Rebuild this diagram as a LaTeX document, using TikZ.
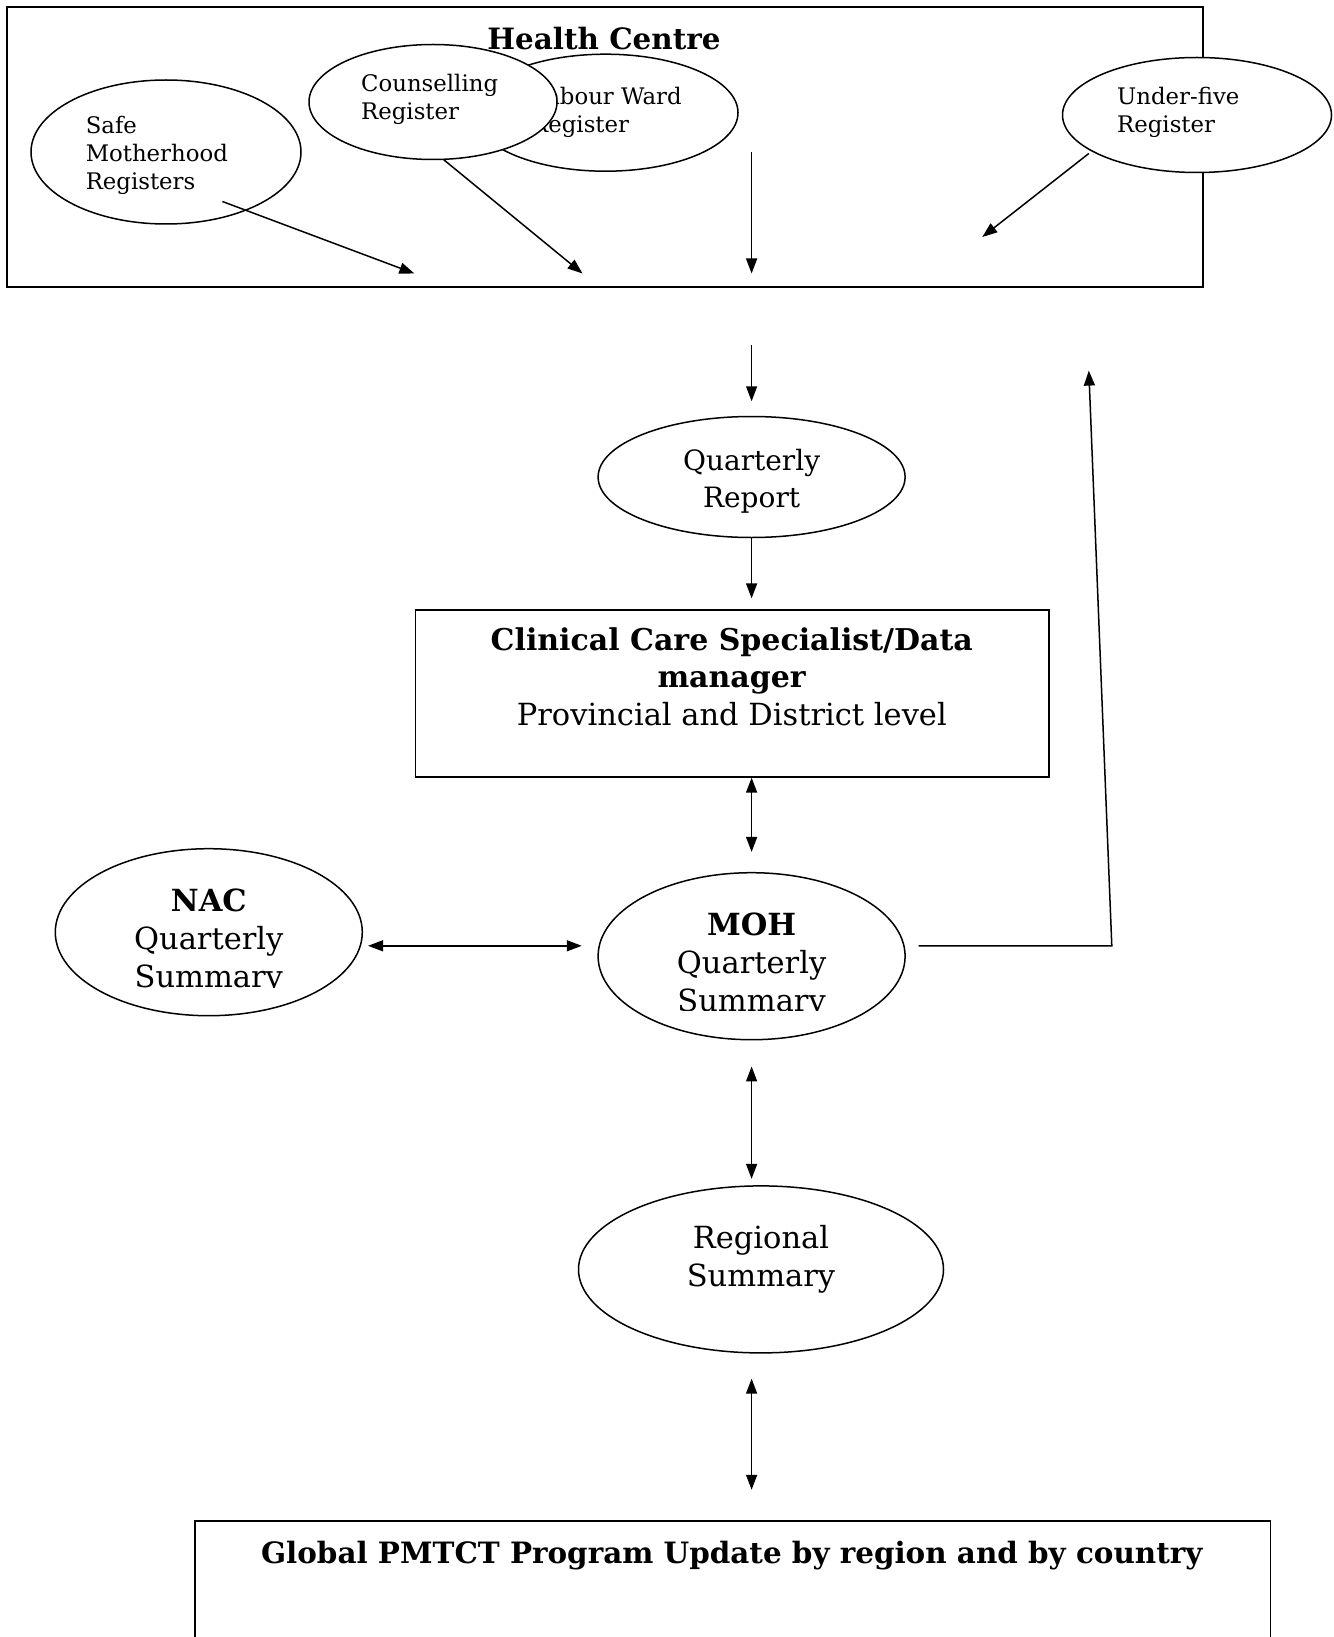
\documentclass[tikz,border=0pt]{standalone}
\usepackage{fontspec}
\setmainfont{DejaVu Serif}
\usetikzlibrary{arrows.meta,shapes.geometric}
\begin{document}
\begin{tikzpicture}[x=1pt,y=-1pt,
  box/.style={draw,line width=1.8pt,inner sep=0,fill=white},
  ell/.style={draw,ellipse,line width=1.5pt,fill=white,inner sep=0},
  conn/.style={line width=1.5pt,-{Triangle[length=15pt,width=11pt]}},
  dconn/.style={line width=1.5pt,{Triangle[length=15pt,width=11pt]}-{Triangle[length=15pt,width=11pt]}},
  smalltxt/.style={font=\fontsize{22.8}{28}\selectfont,align=left,inner sep=0,anchor=west},
  bigtxt/.style={font=\fontsize{28}{37}\selectfont,align=center,inner sep=0},
  sumtxt/.style={font=\fontsize{30.5}{38}\selectfont,align=center,inner sep=0},
  titletxt/.style={font=\fontsize{29.4}{36}\selectfont\bfseries,inner sep=0}
]
\useasboundingbox (0,0) rectangle (1333,1637);
\clip (0,0) rectangle (1333,1637);

% Health Centre box
\node[box,minimum width=1195.3pt,minimum height=279.7pt] (hc) at (605,147.2) {};

% registers
\node[ell,minimum width=265pt,minimum height=117pt] (lw) at (605.5,112.7) {};
\node[smalltxt] (lwt) at (531,112.5) {Labour Ward\\Register};
\node[ell,minimum width=248pt,minimum height=115pt] (cr) at (433,102) {};
\node[smalltxt] (crt) at (361,99.8) {Counselling\\Register};
\node[ell,minimum width=270pt,minimum height=144pt] (sm) at (166,152) {};
\node[smalltxt] (smt) at (85.6,155.6) {Safe\\Motherhood\\Registers};
\node[ell,minimum width=269pt,minimum height=115pt] (uf) at (1197,115) {};
\node[smalltxt] (uft) at (1117,112) {Under-five\\Register};

\node[titletxt] (hct) at (604,38.6) {Health Centre};

% arrows inside the box
\coordinate (a1s) at (222.4,201.5);
\coordinate (a1e) at (414.4,273.5);
\coordinate (a2s) at (443.7,159.7);
\coordinate (a2e) at (582.5,273.5);
\coordinate (a3s) at (751.6,152.4);
\coordinate (a3e) at (751.6,273.5);
\coordinate (a4s) at (1088.8,153.5);
\coordinate (a4e) at (982.3,237);
\draw[conn] (a1s) -- (a1e);
\draw[conn] (a2s) -- (a2e);
\draw[conn] (a3s) -- (a3e);
\draw[conn] (a4s) -- (a4e);

% Quarterly report
\node[ell,minimum width=307pt,minimum height=121pt] (qr) at (751.6,477) {};
\node[bigtxt] (qrt) at (751.6,481) {Quarterly\\Report};
\draw[conn,shorten <=57.5pt,shorten >=14.5pt] (qr.north |- hc.south) -- (qr.north);

% Clinical care box
\node[box,minimum width=633.6pt,minimum height=167.1pt] (ccs) at (732.3,693.2) {};
\node[font=\fontsize{30.5}{37.5}\selectfont,align=center,inner sep=0] (ccst) at (731.8,676.5)
  {\fontsize{30}{37.5}\selectfont\textbf{Clinical Care Specialist/Data}\\\fontsize{30}{37.5}\selectfont\textbf{manager}\\Provincial and District level};
\draw[conn,shorten >=10.4pt] (qr.south) -- (qr.south |- ccs.north);

% MOH and NAC
\node[ell,minimum width=307pt,minimum height=167pt] (moh) at (751.6,956.2) {};
\begin{scope}
  \clip (600,880) rectangle (900,1010);
  \node[sumtxt] (moht) at (751.6,966)
    {\textbf{MOH}\\Quarterly\\Summary};
\end{scope}
\node[ell,minimum width=307pt,minimum height=167pt] (nac) at (208.8,932.2) {};
\begin{scope}
  \clip (60,860) rectangle (360,987.5);
  \node[sumtxt] (nact) at (208.8,942)
    {\textbf{NAC}\\Quarterly\\Summary};
\end{scope}
\draw[dconn,shorten >=20pt] (ccs.south -| moh.north) -- (moh.north);

\coordinate (hy) at (0,945.8);
\draw[dconn,shorten <=5pt,shorten >=15.6pt] (nac.east |- hy) -- (moh.west |- hy);

% feedback line
\coordinate (fbs) at (918.6,945.8);
\coordinate (fbc) at (1111.8,945.8);
\coordinate (fbe) at (1088.8,370.6);
\draw[conn] (fbs) -- (fbc) -- (fbe);

% Regional summary
\node[ell,minimum width=365pt,minimum height=167pt] (reg) at (761,1269.4) {};
\node[sumtxt] (regt) at (761,1259) {Regional\\Summary};
\draw[dconn,shorten <=26pt,shorten >=6.3pt] (moh.south) -- (moh.south |- reg.north);

% Global box
\node[box,minimum width=1075.2pt,minimum height=240pt] (glob) at (732.8,1641) {};
\node[titletxt] (globt) at (731.8,1555.3) {Global PMTCT Program Update by region and by country};
\draw[dconn,shorten <=25pt,shorten >=30.3pt] (moh.south |- reg.south) -- (moh.south |- glob.north);
\end{tikzpicture}
\end{document}
